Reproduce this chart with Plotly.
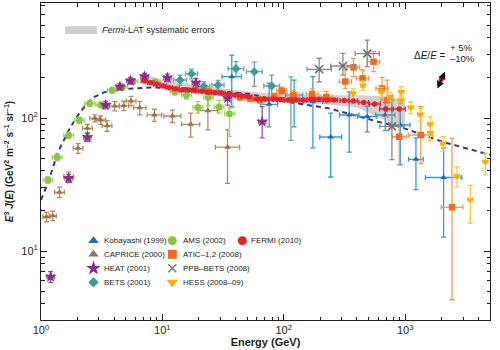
import plotly.graph_objects as go

# ---------------- data ----------------
# Kobayashi (1999)
kob_E = [37.3, 75.8, 121.8, 173.8, 243.6, 346, 487, 685, 911, 1227, 2074]
kob_V = [204.5, 126.8, 148.9, 132.6, 72, 105.3, 102.6, 105.3, 88.6, 48.9, 35.7]
kob_up = [93, 56, 44, 72, 37, 52, 20, 25, 41, 22, 24]
kob_dn = [83, 41, 63, 73, 36, 50, 24, 25, 44, 20, 23]
kob_hw = [0.08, 0.07, 0.07, 0.08, 0.09, 0.08, 0.08, 0.08, 0.08, 0.06, 0.15]

# CAPRICE (2000)
cap_E = [1.11, 1.25, 1.42, 1.69, 2.02, 2.41, 2.77, 3.11, 3.50, 4.05, 4.81, 5.52, 6.51, 8.59, 12.1, 17.1, 23.7, 34.4]
cap_V = [18.1, 18.4, 27.6, 36.2, 59.2, 83.7, 99.5, 96.6, 87.5, 123, 123.7, 134.3, 119.5, 105.4, 103.5, 89.7, 113.5, 60.3]
cap_up = [1.5, 1.5, 2.6, 3, 5, 6, 6, 7, 8, 10, 10, 11, 14, 11, 11, 19, 27, 21]
cap_dn = [1.5, 1.5, 2.4, 3, 5, 6, 6, 7, 8, 10, 10, 11, 14, 11, 11, 18, 32, 28]
cap_hw = [0.03, 0.03, 0.04, 0.04, 0.04, 0.04, 0.04, 0.04, 0.04, 0.04, 0.04, 0.04, 0.05, 0.06, 0.07, 0.075, 0.08, 0.1]

# HEAT (2001)
heat_E = [1.20, 1.69, 2.41, 3.41, 4.46, 5.45, 7.13, 11.0, 18.9, 34.5, 66.4]
heat_V = [6.4, 35.2, 71.6, 125.2, 171.9, 190.6, 204.9, 200.6, 184, 141, 93.8]
heat_up = [0.6, 2.5, 5, 8, 10, 11, 12, 13, 14, 12, 28]
heat_dn = [0.6, 2.5, 5, 8, 10, 11, 12, 13, 14, 16, 23]
heat_hw = [0.03] * 11

# BETS (2001)
bets_E = [13.96, 17.37, 21.9, 28.7, 40.4, 57.2, 79.5, 114.6]
bets_V = [193, 215, 173, 177, 235, 223, 174, 137]
bets_up = [17, 18, 14, 15, 30, 40, 36, 67]
bets_dn = [17, 18, 14, 15, 30, 50, 29, 69]
bets_hw = [0.055, 0.05, 0.05, 0.05, 0.065, 0.065, 0.065, 0.06]

# AMS (2002)
ams_E = [1.14, 1.36, 1.69, 2.07, 2.52, 3.11, 3.86, 4.68, 5.73, 8.71, 12.7, 15.8, 19.6, 23.9, 29.3, 35.7]
ams_V = [34.2, 50.7, 74.1, 96, 128.5, 125.7, 161.8, 171, 189, 186.6, 157.8, 148.9, 120, 142.6, 121, 107.7]
ams_up = [2, 3, 4, 5, 6, 6, 8, 8, 9, 9, 9, 10, 13, 15, 15, 11]
ams_dn = [2, 3, 4, 5, 6, 6, 8, 8, 9, 9, 9, 10, 11, 18, 12, 35]
ams_hw = [0.04] * 16

# ATIC-1,2 (2008)
atic_E = [23.9, 43.7, 52.8, 63.9, 83.8, 96.1, 120.3, 171.4, 224, 321, 375.6, 445.7, 549.5, 644.7, 711, 893.6, 1345, 2432]
atic_V = [158, 143.9, 140.6, 136.5, 144.6, 160.4, 148.9, 151.4, 143.8, 188, 240.5, 198.6, 265, 167, 136.5, 72.3, 74.5, 21.3]
atic_up = [10, 8, 8, 8, 9, 10, 12, 14, 15, 42, 40, 31, 50, 35, 56, 64, 47, 49]
atic_dn = [10, 8, 8, 8, 9, 10, 12, 14, 15, 21, 36, 27, 42, 30, 35, 28, 29, 17]
atic_hw = [0.04, 0.04, 0.04, 0.04, 0.04, 0.04, 0.05, 0.05, 0.05, 0.05, 0.05, 0.05, 0.05, 0.05, 0.05, 0.06, 0.1, 0.09]

# PPB-BETS (2008)
ppb_E = [195.8, 307, 487, 778]
ppb_V = [232.4, 246, 305, 86.6]
ppb_up = [49, 60, 80, 50]
ppb_dn = [45, 36, 62, 38]
ppb_hw = [0.1, 0.1, 0.1, 0.1]

# HESS (2008-09)
hess_E = [373, 449, 635, 754, 929, 929, 1112, 1331, 1610, 1610, 2051, 2674, 3441, 4576]
hess_V = [153.5, 175.5, 157.8, 144.6, 157.8, 136.5, 119.9, 106.2, 90, 77.5, 64.3, 36.6, 24.2, 46.9]
hess_up = [12, 14, 12, 10, 14, 12, 12, 12, 12, 10, 8, 6.5, 7, 7.5]
hess_dn = [12, 14, 12, 10, 14, 12, 12, 12, 12, 10, 8, 6.2, 8, 9.6]
hess_hw = [0.02] * 14

# FERMI (2010)
fermi_E = [7.11, 8.02, 8.99, 10.19, 11.42, 12.90, 14.54, 16.51, 18.61, 21.13, 23.95, 27.20,
           30.89, 35.01, 39.76, 45.15, 51.17, 60.36, 70.25, 81.77, 94.27, 108.7, 125.3, 144.5,
           168.2, 194.0, 225.8, 260.3, 314.8, 373.4, 455.7, 561.5, 691.8, 894.1]
fermi_V = [189.7, 184.3, 179.2, 174.0, 169.0, 166.1, 162.4, 162.4, 160.5, 158.8, 156.1, 155.0,
           153.4, 150.8, 148.9, 146.3, 144.6, 139.0, 138.2, 138.2, 137.7, 136.6, 136.6, 136.6,
           138.2, 138.2, 136.6, 136.6, 135.4, 134.2, 130.8, 127.4, 116.9, 116.9]
fermi_hw = [0.027] * 28 + [0.035, 0.035, 0.04, 0.045, 0.05, 0.05]

# Fermi-LAT systematic error band
band_E = [6.8, 10, 20, 50, 100, 200, 400, 700, 1000]
band_hi = [215, 195, 176, 158, 150, 148, 148, 145, 136]
band_lo = [183, 170, 154, 140, 130, 128, 120, 95, 82]

# model curve (dashed)
model_E = [1.0, 1.14, 1.38, 1.73, 2.10, 2.63, 3.37, 4.93, 7.92, 14.0, 24.7, 52.8, 84.9, 136.5, 228, 352.7, 589, 911, 2061, 4402, 5000]
model_V = [24.2, 32.5, 55.5, 84.1, 110.9, 141.4, 156.9, 165.3, 169.5, 168.1, 161.0, 151.6, 136.6, 127.4, 118.9, 107.2, 94.1, 85.6, 66.0, 54.6, 53.0]

legend_labels = ["Kobayashi (1999)", "CAPRICE (2000)", "HEAT (2001)", "BETS (2001)",
                 "AMS (2002)", "ATIC\u20131,2 (2008)", "PPB\u2013BETS (2008)", "HESS (2008\u201309)",
                 "FERMI (2010)"]

x_ticks = [1, 10, 100, 1000]
x_ticktext = ["10<sup>0</sup>", "10<sup>1</sup>", "10<sup>2</sup>", "10<sup>3</sup>"]
y_ticks = [10, 100]
y_ticktext = ["10<sup>1</sup>", "10<sup>2</sup>"]

# ---------------- figure ----------------
FONT = "Liberation Sans, Arial, sans-serif"

fig = go.Figure()

# systematic band
fig.add_trace(go.Scatter(
    x=band_E + band_E[::-1], y=band_hi + band_lo[::-1],
    fill="toself", fillcolor="#d2d2d2", line=dict(width=0), mode="lines",
    hoverinfo="skip", showlegend=False))

# model
fig.add_trace(go.Scatter(x=model_E, y=model_V, mode="lines",
                         line=dict(color="#2b3a93", width=2, dash="5px,4px"),
                         showlegend=False))


def add_series(E, V, up, dn, hw, symbol, size, color, ecolor, lw=0, lcolor=None):
    plus = [e * (10 ** h - 1) for e, h in zip(E, hw)]
    minus = [e * (1 - 10 ** (-h)) for e, h in zip(E, hw)]
    err_y = None
    if up is not None:
        err_y = dict(type="data", symmetric=False, array=up, arrayminus=dn,
                     color=ecolor, thickness=1.3, width=2.5)
    fig.add_trace(go.Scatter(
        x=E, y=V, mode="markers",
        marker=dict(symbol=symbol, size=size, color=color,
                    line=dict(width=lw, color=lcolor or color)),
        error_x=dict(type="data", symmetric=False, array=plus, arrayminus=minus,
                     color=ecolor, thickness=1.3, width=2.5),
        error_y=err_y, showlegend=False))


add_series(cap_E, cap_V, cap_up, cap_dn, cap_hw, "triangle-up", 6, "#9c7148", "#b48b63")
add_series(ams_E, ams_V, ams_up, ams_dn, ams_hw, "circle", 7, "#8cc63f", "#a3d660")
add_series(bets_E, bets_V, bets_up, bets_dn, bets_hw, "diamond", 7, "#3f9c92", "#62ada5")
add_series(heat_E, heat_V, heat_up, heat_dn, heat_hw, "star", 9, "#8b2a8c", "#9d4f9d")
add_series(kob_E, kob_V, kob_up, kob_dn, kob_hw, "triangle-up", 6, "#1a6fb8", "#3a9ad9")
add_series(atic_E, atic_V, atic_up, atic_dn, atic_hw, "square", 6.5, "#f26a1b", "#f59a5c")
add_series(ppb_E, ppb_V, ppb_up, ppb_dn, ppb_hw, "x-thin", 8, "#7a7a7a", "#8c8c8c", lw=1.6, lcolor="#6d6d6d")
add_series(hess_E, hess_V, hess_up, hess_dn, hess_hw, "triangle-down", 7, "#f5b000", "#fbc93d")
add_series(fermi_E, fermi_V, None, None, fermi_hw, "circle", 5.5, "#e8202a", "#e8202a")

# ---------------- manual legend on an overlay axis ----------------
leg_sym = ["triangle-up", "triangle-up", "star", "diamond", "circle", "square", "x-thin", "triangle-down", "circle"]
leg_col = ["#1a6fb8", "#9c7148", "#8b2a8c", "#3f9c92", "#8cc63f", "#f26a1b", "#7a7a7a", "#f5b000", "#e8202a"]
leg_size = [9, 9, 11, 8, 9, 9, 8, 10, 9]
col_mx = [0.1169, 0.2924, 0.4483]
col_tx = [0.1359, 0.3111, 0.4626]
row_y = [0.2502, 0.2073, 0.1631, 0.1189]
leg_pos = [(0, 0), (0, 1), (0, 2), (0, 3), (1, 0), (1, 1), (1, 2), (1, 3), (2, 0)]
for i, lab in enumerate(legend_labels):
    c, r = leg_pos[i]
    fig.add_trace(go.Scatter(
        x=[col_mx[c]], y=[row_y[r]], xaxis="x2", yaxis="y2", mode="markers",
        marker=dict(symbol=leg_sym[i], size=leg_size[i], color=leg_col[i],
                    line=dict(width=1.6 if leg_sym[i] == "x-thin" else 0, color=leg_col[i])),
        showlegend=False, hoverinfo="skip"))
    fig.add_annotation(x=col_tx[c], y=row_y[r], xref="paper", yref="paper", text=lab,
                       showarrow=False, xanchor="left", yanchor="middle",
                       font=dict(family=FONT, size=8, color="#231f20"))

# band legend
fig.add_shape(type="rect", xref="paper", yref="paper", x0=0.0535, x1=0.1247, y0=0.902, y1=0.927,
              fillcolor="#cfcfcf", line=dict(width=0))
fig.add_annotation(x=0.1314, y=0.916, xref="paper", yref="paper",
                   text="<i>Fermi</i>-LAT systematic errors", showarrow=False,
                   xanchor="left", yanchor="middle",
                   font=dict(family=FONT, size=9, color="#231f20"))

# energy scale uncertainty
fig.add_annotation(x=0.9065, y=0.835, xref="paper", yref="paper",
                   text="\u0394<i>E</i>/<i>E</i> =", showarrow=False,
                   xanchor="right", yanchor="middle",
                   font=dict(family=FONT, size=10, color="#231f20"))
fig.add_annotation(x=0.9065, y=0.860, xref="paper", yref="paper", text="+ 5%",
                   showarrow=False, xanchor="left", yanchor="middle",
                   font=dict(family=FONT, size=9.5, color="#231f20"))
fig.add_annotation(x=0.9065, y=0.826, xref="paper", yref="paper", text="\u201310%",
                   showarrow=False, xanchor="left", yanchor="middle",
                   font=dict(family=FONT, size=9.5, color="#231f20"))
fig.add_annotation(x=0.8998, y=0.7833, xref="paper", yref="paper", ax=-8.3, ay=18.3,
                   axref="pixel", ayref="pixel", text="", showarrow=True,
                   arrowhead=2, arrowside="end+start", arrowsize=1, arrowwidth=1.5,
                   arrowcolor="#111111")
fig.add_shape(type="circle", xref="paper", yref="paper",
              x0=0.8915 - 0.0058, x1=0.8915 + 0.0058, y0=0.7593 - 0.0082, y1=0.7593 + 0.0082,
              fillcolor="#e8202a", line=dict(width=0))

minor_x = [2, 3, 4, 5, 6, 7, 8, 9, 20, 30, 40, 50, 60, 70, 80, 90,
           200, 300, 400, 500, 600, 700, 800, 900, 2000, 3000, 4000]
minor_y = [4, 5, 6, 7, 8, 9, 20, 30, 40, 50, 60, 70, 80, 90, 200, 300, 400, 500, 600, 700]

axis_common = dict(showgrid=False, zeroline=False, showline=True, linecolor="#231f20",
                   linewidth=1, mirror="ticks", ticks="inside", ticklen=6, tickwidth=1,
                   tickcolor="#231f20", tickfont=dict(family=FONT, size=11, color="#231f20"))

fig.update_layout(
    width=500, height=350,
    margin=dict(l=41, r=10, t=3, b=30),
    paper_bgcolor="white", plot_bgcolor="white",
    showlegend=False,
    xaxis=dict(type="log", range=[0, 3.699], tickvals=x_ticks, ticktext=x_ticktext,
               minor=dict(tickvals=minor_x, ticks="inside", ticklen=3.5, tickcolor="#231f20"),
               title=dict(text="<b>Energy (GeV)</b>", standoff=2,
                          font=dict(family=FONT, size=11, color="#231f20")),
               **axis_common),
    yaxis=dict(type="log", range=[0.4812, 2.8647], tickvals=y_ticks, ticktext=y_ticktext,
               minor=dict(tickvals=minor_y, ticks="inside", ticklen=3.5, tickcolor="#231f20"),
               title=dict(text="<b><i>E</i><sup>3</sup> <i>J</i>(<i>E</i>) (GeV<sup>2</sup> m<sup>\u20132</sup> s<sup>\u20131</sup> sr<sup>\u20131</sup>)</b>",
                          standoff=5, font=dict(family=FONT, size=10, color="#231f20")),
               **axis_common),
    xaxis2=dict(overlaying="x", range=[0, 1], visible=False),
    yaxis2=dict(overlaying="y", range=[0, 1], visible=False),
)

fig.write_html("out.html")
